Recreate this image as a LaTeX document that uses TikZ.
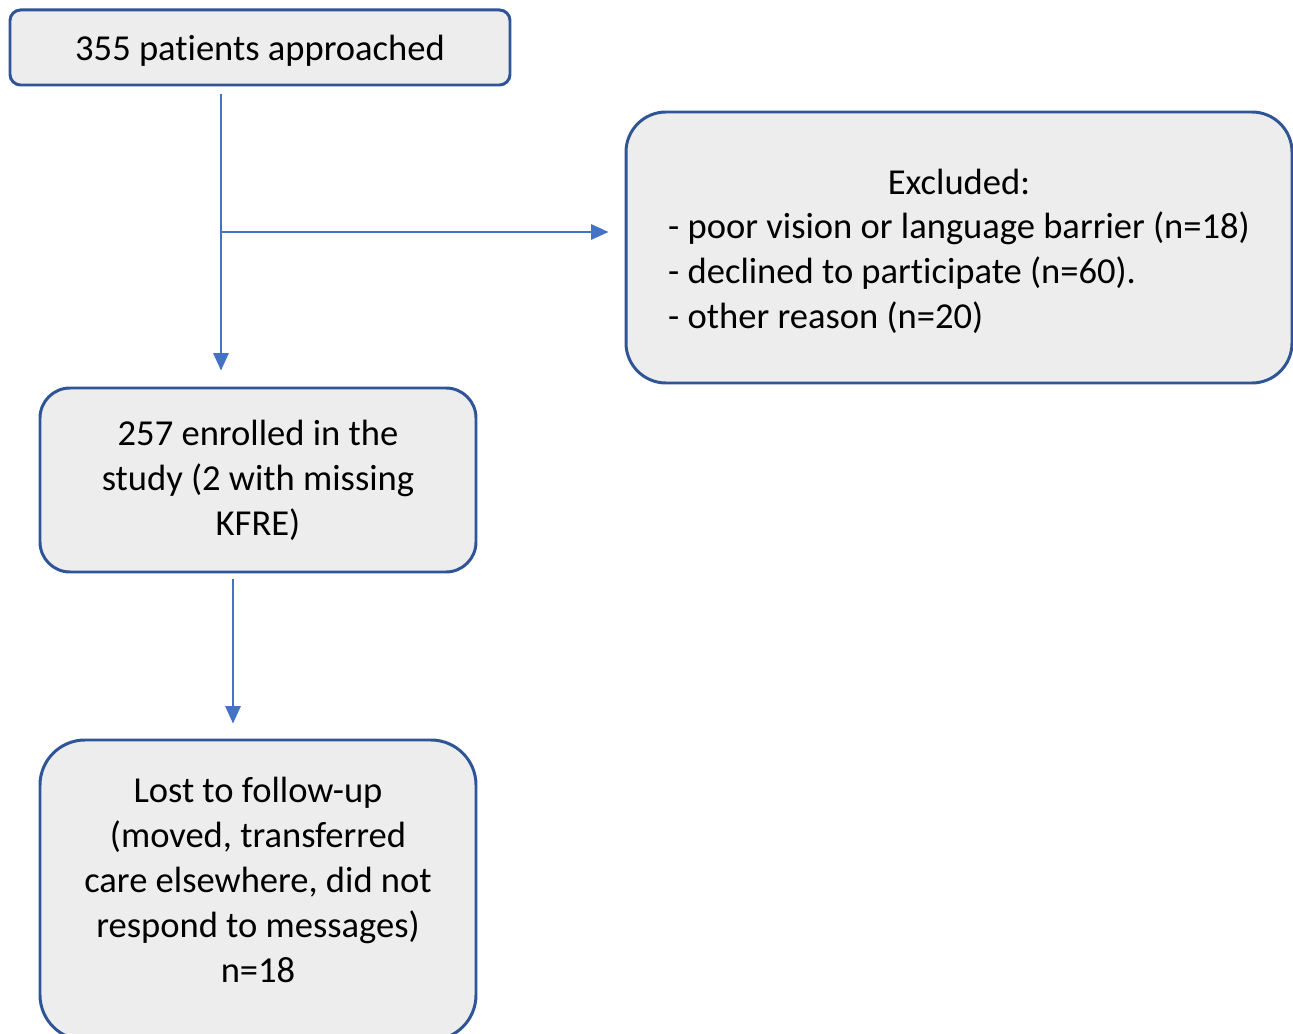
\documentclass[tikz,border=0pt]{standalone}
\usepackage{fontspec}
\setmainfont{Carlito}[Ligatures=NoCommon]
\usetikzlibrary{arrows.meta,positioning,calc}
\definecolor{boxgray}{RGB}{237,237,237}
\definecolor{edgeblue}{RGB}{47,85,151}
\definecolor{arrowblue}{RGB}{68,114,196}
\tikzset{
  flowbox/.style={
    draw=edgeblue, line width=1.7pt, fill=boxgray,
    align=center, inner sep=0pt,
    font=\fontsize{20.8}{25.6}\selectfont
  },
  flowtext/.style={
    align=center, inner sep=0pt,
    font=\fontsize{20.8}{25.6}\selectfont
  },
  link/.style={-{Triangle[length=3.5mm,width=3.1mm]}, line width=.9pt, draw=arrowblue}
}

\begin{document}
\begin{tikzpicture}[x=1cm,y=1cm]
  \clip (0,0) rectangle (25.86,-20.68);

  % Screening
  \node[flowbox, rounded corners=6pt, minimum width=10cm, minimum height=1.5cm,
        text depth=0pt]
    (approached) at (5.2,-0.95) {355 patients approached};

  % Exclusions
  \node[flowbox, rounded corners=0.8cm, minimum width=13.32cm, minimum height=5.42cm]
    (excluded) at (19.18,-4.95)
    {\raisebox{-0.1cm}[\height][\depth]{\begin{tabular}{@{}l@{}}
       \multicolumn{1}{@{}c@{}}{Excluded:}\\
       - poor vision or language barrier (n=18)\\
       - declined to participate (n=60).\\
       - other reason (n=20)
     \end{tabular}}};

  % Enrolment
  \node[flowbox, rounded corners=0.6cm, minimum width=8.72cm, minimum height=3.68cm]
    (enrolled) at (5.16,-9.6)
    {257 enrolled in the\\study (2 with missing\\KFRE)};

  % Follow-up
  \node[flowbox, rounded corners=0.9cm, minimum width=8.72cm, minimum height=6cm]
    (lost) at (5.16,-17.8) {};
  \node[flowtext] (losttext) at (5.16,-17.6)
    {Lost to follow-up\\(moved, transferred\\care elsewhere, did not\\respond to messages)\\n=18};

  % Branch points of the connectors
  \coordinate (split) at (4.42,-4.64);
  \coordinate (drop) at (4.66,-13);

  % Screening to enrolment, with the excluded branch
  \draw[link, shorten <=0.16cm, shorten >=0.32cm]
    (split |- approached.south) -- (split |- enrolled.north);
  \draw[link, shorten >=0.32cm] (split) -- (excluded.west |- split);
  % Enrolment to follow-up
  \draw[link, shorten <=0.12cm, shorten >=0.3cm]
    (drop |- enrolled.south) -- (drop |- lost.north);
\end{tikzpicture}
\end{document}
